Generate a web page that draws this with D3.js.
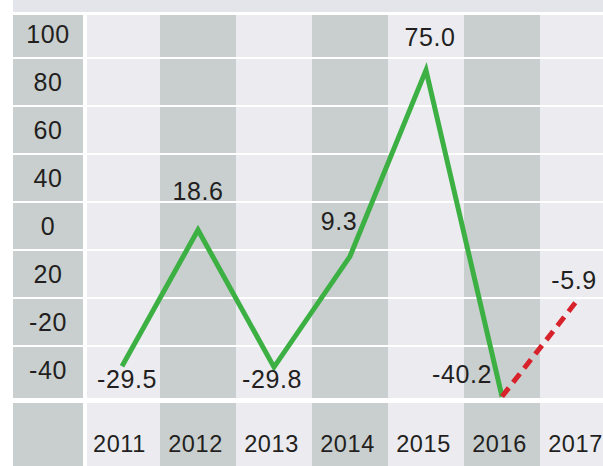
<!DOCTYPE html>
<html>
<head>
<meta charset="utf-8">
<script src="https://cdn.jsdelivr.net/npm/d3@7"></script>
<style>
  body { margin: 0; background: #fff; }
  svg text { font-family: "Liberation Sans", Arial, Helvetica, sans-serif; fill: #231f20; }
</style>
</head>
<body>
<div id="chart"></div>
<script>
// data
var years = ["2011", "2012", "2013", "2014", "2015", "2016", "2017"];
var values = [-29.5, 18.6, -29.8, 9.3, 75.0, -40.2, -5.9];
var rowLabels = ["100", "80", "60", "40", "0", "20", "-20", "-40"];
var forecastFrom = "2016"; // last actual year, after it the line is dashed

function drawChart() {
    var width = 603;
    var height = 466;
    var gray = "#c9cfcf";
    var light = "#ebebf0";

    var svg = d3.select("#chart")
      .append("svg")
      .attr("width", width)
      .attr("height", height);

    var x = d3.scaleBand()
      .domain(years)
      .range([84, 84 + 76 * years.length])
      .padding(0);
    var rows = d3.scaleBand()
      .domain(rowLabels)
      .range([10, 394]);
    var y = d3.scaleLinear()
      .domain([-40, 80])
      .range([396, 56]);

    // top strip
    svg.append("rect")
      .attr("x", 13).attr("y", 0)
      .attr("width", width - 13).attr("height", 12)
      .style("fill", "#e4e5ea");

    // label column + bottom-left cell
    svg.append("rect")
      .attr("x", 13).attr("y", 15)
      .attr("width", 70).attr("height", 383)
      .style("fill", gray);
    svg.append("rect")
      .attr("x", 13).attr("y", 403)
      .attr("width", 70).attr("height", height - 403)
      .style("fill", gray);

    // alternating columns, plot area and bottom band
    var cols = svg.append("g");
    cols.selectAll(".col")
      .data(years)
      .enter()
      .append("rect")
        .attr("x", function (d) { return x(d); })
        .attr("y", 15)
        .attr("width", x.bandwidth())
        .attr("height", 383)
        .style("fill", function (d, i) { return i % 2 ? gray : light; });
    cols.selectAll(".colb")
      .data(years)
      .enter()
      .append("rect")
        .attr("x", function (d) { return x(d); })
        .attr("y", 403)
        .attr("width", x.bandwidth())
        .attr("height", height - 403)
        .style("fill", function (d, i) { return i % 2 ? gray : light; });

    // white gap between label column and plot
    svg.append("rect")
      .attr("x", 83).attr("y", 12)
      .attr("width", 4).attr("height", height - 12)
      .style("fill", "#fff");

    // white row separators
    svg.append("g")
      .selectAll("rect")
      .data(rowLabels.slice(1))
      .enter()
      .append("rect")
        .attr("x", 13)
        .attr("y", function (d) { return rows(d) - 1; })
        .attr("width", width - 13)
        .attr("height", 2)
        .style("fill", "#fff");

    // row labels
    svg.append("g")
      .selectAll("text")
      .data(rowLabels)
      .enter()
      .append("text")
        .attr("x", 48)
        .attr("y", function (d) { return rows(d) + rows.bandwidth() / 2 + 9; })
        .attr("text-anchor", "middle")
        .style("font-size", "25px")
        .style("letter-spacing", "0.6px")
        .text(function (d) { return d; });

    // year labels
    svg.append("g")
      .selectAll("text")
      .data(years)
      .enter()
      .append("text")
        .attr("x", function (d) { return x(d) + x.bandwidth() / 2 - 2.5; })
        .attr("y", 452)
        .attr("text-anchor", "middle")
        .style("font-size", "23.5px")
        .style("letter-spacing", "0.6px")
        .text(function (d) { return d; });

    var pts = years.map(function (d, i) {
        return { year: d, value: values[i], px: x(d) + x.bandwidth() / 2, py: y(values[i]) };
    });
    var split = years.indexOf(forecastFrom);
    var line = d3.line()
      .x(function (d) { return d.px; })
      .y(function (d) { return d.py; });

    svg.append("path")
      .datum(pts.slice(0, split + 1))
      .attr("d", line)
      .style("fill", "none")
      .style("stroke", "#3cb043")
      .style("stroke-width", 5)
      .style("stroke-linejoin", "miter")
      .style("stroke-miterlimit", 10);
    svg.append("path")
      .datum(pts.slice(split))
      .attr("d", line)
      .style("fill", "none")
      .style("stroke", "#d8222b")
      .style("stroke-width", 5)
      .style("stroke-dasharray", "11,7");

    // value labels, offsets from the point
    var offs = [[5, 22], [0, -30], [-2, 21], [-11, -26], [4, -24], [-40, -14], [-4, -10]];
    svg.append("g")
      .selectAll("text")
      .data(pts)
      .enter()
      .append("text")
        .attr("x", function (d, i) { return d.px + offs[i][0]; })
        .attr("y", function (d, i) { return d.py + offs[i][1]; })
        .attr("text-anchor", "middle")
        .style("font-size", "25px")
        .style("letter-spacing", "0.6px")
        .text(function (d) { return d.value.toFixed(1); });
}
drawChart();
</script>
</body>
</html>
